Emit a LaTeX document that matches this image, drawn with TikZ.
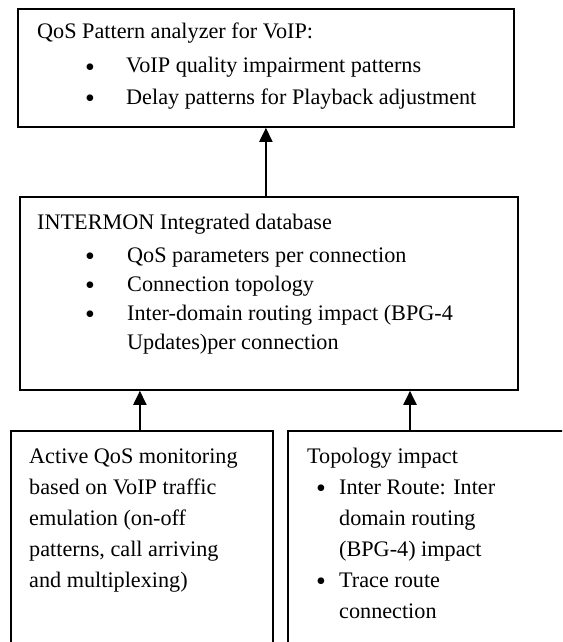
\documentclass[tikz,border=0pt]{standalone}
\usepackage{fontspec}
\setmainfont{Liberation Serif}
\usetikzlibrary{arrows.meta}
\newcommand{\bulletmark}{\smash{•}}

\begin{document}
\begin{tikzpicture}[x=1pt, y=-1pt,
  box/.style={draw, line width=1.8pt, inner sep=0pt, anchor=north west},
  txt/.style={anchor=base west, inner sep=0pt, font=\fontsize{22.2}{30}\selectfont},
  dot/.style={anchor=base, inner sep=0pt, font=\fontsize{28}{28}\selectfont},
  link/.style={line width=2pt, -{Triangle[width=13pt,length=14pt]}}]

\clip (0,0) rectangle (562,642);

% boxes (the two lower ones run past the frame)
\node[box, minimum width=496pt, minimum height=118pt] (analyzer) at (17,8) {};
\node[box, minimum width=498pt, minimum height=193pt] (database) at (19,196) {};
\node[box, minimum width=262pt, minimum height=240pt] (active) at (10,430) {};
\node[box, minimum width=300pt, minimum height=240pt] (topology) at (287,430) {};

% connectors
\draw[link] (database.north -| analyzer.south) -- (analyzer.south);
\draw[link] ([xshift=-2pt]active.north) -- ([xshift=-2pt]active.north |- database.south);
\draw[link] ([xshift=123pt]topology.north west) -- ([xshift=123pt]topology.north west |- database.south);

% analyzer text
\node[txt] (a0) at (37,38) {QoS Pattern analyzer for VoIP:};
\node[dot] (a1d) at (90,76.5) {\bulletmark};
\node[txt] (a1) at (126,73) {VoIP quality impairment patterns};
\node[dot] (a2d) at (90,107.5) {\bulletmark};
\node[txt] (a2) at (126,104) {Delay patterns for Playback adjustment};

% database text
\node[txt] (d0) at (37,229) {INTERMON Integrated database};
\node[dot] (d1d) at (90,265.5) {\bulletmark};
\node[txt] (d1) at (127,262) {QoS parameters per connection};
\node[dot] (d2d) at (90,294.5) {\bulletmark};
\node[txt] (d2) at (127,291) {Connection topology};
\node[dot] (d3d) at (90,323.5) {\bulletmark};
\node[txt] (d3) at (127,320) {Inter-domain routing impact (BPG-4};
\node[txt] (d4) at (127,349) {Updates)per connection};

% active monitoring text
\node[txt] (m1) at (29,463) {Active QoS monitoring};
\node[txt] (m2) at (29,494) {based on VoIP traffic};
\node[txt] (m3) at (29,525) {emulation (on-off};
\node[txt] (m4) at (29,556) {patterns, call arriving};
\node[txt] (m5) at (29,587) {and multiplexing)};

% topology text
\node[txt] (t0) at (307,463) {Topology impact};
\node[dot] (t1d) at (321,497.5) {\bulletmark};
\node[txt] (t1) at (339,494) {Inter Route: Inter};
\node[txt] (t2) at (339,525) {domain routing};
\node[txt] (t3) at (339,556) {(BPG-4) impact};
\node[dot] (t4d) at (321,590.5) {\bulletmark};
\node[txt] (t4) at (339,587) {Trace route};
\node[txt] (t5) at (339,618) {connection};
\end{tikzpicture}
\end{document}
